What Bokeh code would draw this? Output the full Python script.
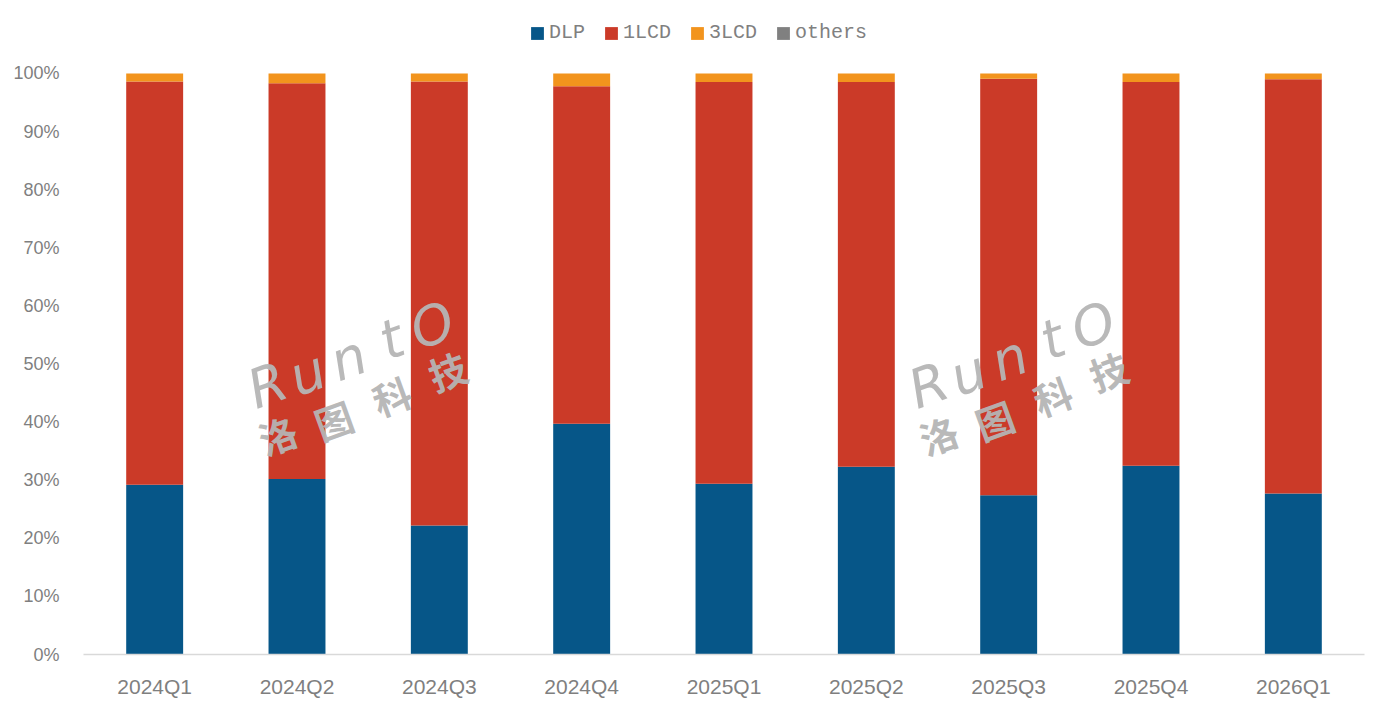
import math
from bokeh.plotting import figure
from bokeh.models import (ColumnDataSource, FactorRange, Range1d, FixedTicker,
                          NumeralTickFormatter, Legend, LegendItem, Label)
from bokeh.embed import file_html
from bokeh.resources import INLINE

# ---- data (shares, %) ----
quarters = ["2024Q1", "2024Q2", "2024Q3", "2024Q4", "2025Q1",
            "2025Q2", "2025Q3", "2025Q4", "2026Q1"]
dlp = [29.2, 30.2, 22.2, 39.7, 29.4, 32.3, 27.4, 32.5, 27.7]
lcd1 = [69.4, 68.1, 76.4, 58.1, 69.1, 66.2, 71.7, 66.0, 71.3]
lcd3 = [1.4, 1.7, 1.4, 2.2, 1.5, 1.5, 0.9, 1.5, 1.0]
others = [0.0, 0.0, 0.0, 0.0, 0.0, 0.0, 0.0, 0.0, 0.0]
series = ["DLP", "1LCD", "3LCD", "others"]
colors = ["#065688", "#CB3A28", "#F2941D", "#808080"]
y_ticks = [0.0, 0.1, 0.2, 0.3, 0.4, 0.5, 0.6, 0.7, 0.8, 0.9, 1.0]

source = ColumnDataSource(data=dict(
    quarter=quarters,
    DLP=[v / 100 for v in dlp],
    **{"1LCD": [v / 100 for v in lcd1]},
    **{"3LCD": [v / 100 for v in lcd3]},
    others=[v / 100 for v in others],
))

# frame extends above 100% so the legend (inside the frame) sits at the top
p = figure(width=1380, height=700, output_backend="svg", toolbar_location=None,
           x_range=FactorRange(*quarters, range_padding=0),
           y_range=Range1d(0, 650 / 582),
           min_border_left=83, min_border_right=16, min_border_top=5,
           min_border_bottom=45, outline_line_color=None)

renderers = p.vbar_stack(series, x="quarter", width=0.4, color=colors,
                         line_color=None, source=source)

p.xgrid.grid_line_color = None
p.ygrid.grid_line_color = None

p.yaxis.ticker = FixedTicker(ticks=y_ticks)
p.yaxis.formatter = NumeralTickFormatter(format="0%")
p.yaxis.axis_line_color = None
p.yaxis.major_tick_line_color = None
p.yaxis.minor_tick_line_color = None
p.yaxis.major_label_standoff = 18
p.yaxis.major_label_text_font = "Liberation Sans"
p.yaxis.major_label_text_font_size = "18px"
p.yaxis.major_label_text_color = "#7F7F7F"

p.xaxis.axis_line_color = "#D9D9D9"
p.xaxis.axis_line_width = 1.5
p.xaxis.major_tick_line_color = None
p.xaxis.minor_tick_line_color = None
p.xaxis.major_label_standoff = 14
p.xaxis.major_label_text_font = "Liberation Sans"
p.xaxis.major_label_text_font_size = "21px"
p.xaxis.major_label_text_color = "#7F7F7F"

legend = Legend(items=[LegendItem(label=s, renderers=[r]) for s, r in zip(series, renderers)],
                orientation="horizontal", location=(446, 610),
                padding=0, margin=0, spacing=18, label_standoff=4,
                glyph_width=16, glyph_height=16, label_height=20,
                label_text_font="Liberation Mono", label_text_font_size="20px",
                label_text_color="#808080", border_line_color=None,
                background_fill_alpha=0)
p.add_layout(legend, "center")

# ---- watermark (decorative, screen units relative to plot frame) ----
wm_color = "#B5B5B5"
ang = math.radians(20)
latin = [("R", 267, 386), ("u", 307, 374), ("n", 348, 359), ("t", 391, 340), ("O", 432, 326)]
cjk = [("洛", 277, 435), ("图", 333, 420), ("科", 391, 396), ("技", 447, 371)]
for dx in (0, 661):
    for ch, ix, iy in latin:
        p.add_layout(Label(x=ix + dx - 83, y=655 - iy, x_units="screen", y_units="screen",
                           text=ch, angle=ang, text_align="center", text_baseline="middle",
                           text_font="DejaVu Sans", text_font_style="italic",
                           text_font_size="54px", text_color=wm_color, text_alpha=0.95))
    for ch, ix, iy in cjk:
        p.add_layout(Label(x=ix + dx - 83, y=655 - iy, x_units="screen", y_units="screen",
                           text=ch, angle=ang, text_align="center", text_baseline="middle",
                           text_font="Noto Sans CJK SC", text_font_style="bold",
                           text_font_size="38px", text_color=wm_color, text_alpha=0.95))

open("out.html", "w").write(file_html(p, INLINE))
